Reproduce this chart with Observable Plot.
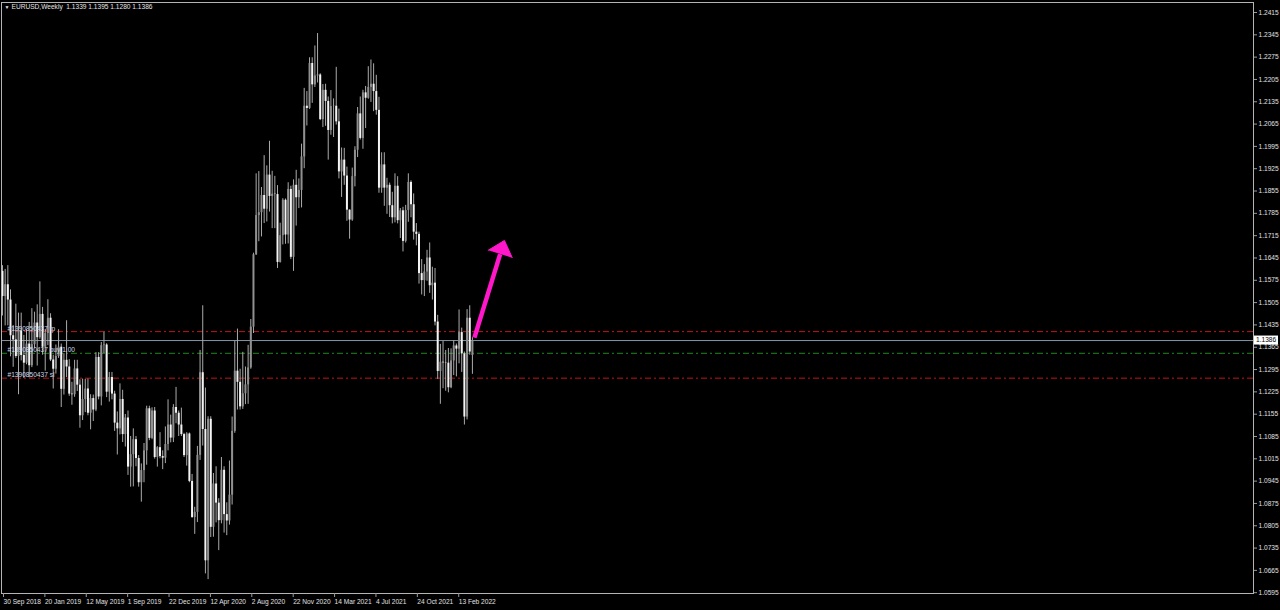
<!DOCTYPE html>
<html><head><meta charset="utf-8">
<script src="https://cdn.jsdelivr.net/npm/d3@7"></script>
<script src="https://cdn.jsdelivr.net/npm/@observablehq/plot@0.6"></script>
<style>html,body{margin:0;padding:0;background:#000;overflow:hidden}</style>
</head><body><div id="chart"></div>
<script>
// Weekly EURUSD bars, first bar = week of 30 Sep 2018, last = week of 13 Feb 2022
const opens = [1.1603,1.1524,1.1561,1.1513,1.1401,1.1388,1.1336,1.1416,1.1339,1.1315,
1.1375,1.1307,1.1373,1.1441,1.1395,1.1468,1.1365,1.1408,1.1456,1.1325,
1.1296,1.1336,1.1365,1.1233,1.1324,1.1303,1.1218,1.1216,1.1297,1.1246,
1.1150,1.1201,1.1234,1.1158,1.1204,1.1168,1.1333,1.1209,1.1370,1.1372,
1.1224,1.1270,1.1218,1.1127,1.1109,1.1201,1.1091,1.1143,1.0989,1.1028,
1.1075,1.1016,1.0940,1.0978,1.1040,1.1172,1.1079,1.1165,1.1019,1.1050,
1.1022,1.1017,1.1060,1.1121,1.1080,1.1176,1.1158,1.1121,1.1091,1.1025,
1.1093,1.0944,1.0831,1.0847,1.1026,1.1285,1.1107,1.0695,1.1139,1.0800,
1.0936,1.0876,1.0821,1.0979,1.0840,1.0820,1.0901,1.1101,1.1290,1.1255,
1.1178,1.1219,1.1247,1.1300,1.1428,1.1655,1.1778,1.1787,1.1841,1.1798,
1.1905,1.1838,1.1845,1.1844,1.1631,1.1715,1.1826,1.1717,1.1860,1.1647,
1.1873,1.1834,1.1857,1.1962,1.2121,1.2114,1.2255,1.2188,1.2216,1.2219,
1.2079,1.2171,1.2136,1.2045,1.2120,1.2121,1.2072,1.1915,1.1952,1.1902,
1.1795,1.1764,1.1900,1.1983,1.2097,1.2020,1.2163,1.2146,1.2180,1.2190,
1.2167,1.2108,1.1864,1.1937,1.1864,1.1873,1.1809,1.1771,1.1870,1.1762,
1.1793,1.1697,1.1794,1.1882,1.1812,1.1726,1.1719,1.1596,1.1574,1.1601,
1.1645,1.1558,1.1566,1.1444,1.1289,1.1318,1.1316,1.1315,1.1238,1.1322,
1.1369,1.1359,1.1411,1.1344,1.1146,1.1456,1.1339];
const highs = [1.1621,1.1609,1.1621,1.1545,1.1433,1.1500,1.1472,1.1472,1.1402,1.1420,
1.1443,1.1486,1.1475,1.1498,1.1570,1.1490,1.1420,1.1514,1.1470,1.1340,
1.1372,1.1420,1.1375,1.1345,1.1448,1.1326,1.1255,1.1324,1.1324,1.1263,
1.1265,1.1264,1.1265,1.1216,1.1215,1.1348,1.1348,1.1380,1.1412,1.1376,
1.1286,1.1286,1.1227,1.1162,1.1250,1.1230,1.1154,1.1165,1.1085,1.1109,
1.1085,1.1025,1.0999,1.1063,1.1180,1.1180,1.1175,1.1176,1.1053,1.1097,
1.1040,1.1115,1.1200,1.1152,1.1185,1.1239,1.1165,1.1174,1.1095,1.1097,
1.1096,1.0966,1.0863,1.1054,1.1355,1.1495,1.1237,1.1147,1.1147,1.0969,
1.0990,1.0890,1.1019,1.0990,1.0877,1.1008,1.1146,1.1384,1.1422,1.1296,
1.1349,1.1303,1.1371,1.1452,1.1660,1.1909,1.1916,1.1866,1.1966,1.1934,
1.2011,1.1917,1.1901,1.1872,1.1754,1.1831,1.1830,1.1881,1.1870,1.1890,
1.1920,1.1893,1.2002,1.2177,1.2167,1.2273,1.2273,1.2310,1.2349,1.2223,
1.2189,1.2190,1.2150,1.2170,1.2144,1.2243,1.2112,1.1990,1.1989,1.1930,
1.1796,1.1927,1.1994,1.2117,1.2150,1.2171,1.2183,1.2245,1.2266,1.2254,
1.2218,1.2149,1.1975,1.1975,1.1895,1.1880,1.1851,1.1909,1.1900,1.1800,
1.1804,1.1810,1.1909,1.1887,1.1846,1.1753,1.1726,1.1640,1.1624,1.1669,
1.1692,1.1616,1.1612,1.1465,1.1374,1.1383,1.1355,1.1361,1.1360,1.1386,
1.1375,1.1482,1.1425,1.1350,1.1483,1.1495,1.1395];
const lows = [1.1463,1.1432,1.1432,1.1335,1.1302,1.1330,1.1216,1.1322,1.1267,1.1310,
1.1269,1.1301,1.1360,1.1306,1.1390,1.1340,1.1290,1.1370,1.1320,1.1234,
1.1281,1.1330,1.1176,1.1215,1.1270,1.1211,1.1183,1.1208,1.1226,1.1111,
1.1135,1.1160,1.1150,1.1106,1.1132,1.1163,1.1200,1.1181,1.1345,1.1207,
1.1193,1.1200,1.1101,1.1027,1.1090,1.1066,1.1052,1.0963,1.0926,1.0927,
1.0990,1.0926,1.0879,1.0940,1.0995,1.1072,1.1075,1.1014,1.0989,1.1015,
1.0981,1.1000,1.1040,1.1065,1.1066,1.1125,1.1085,1.1085,1.1019,1.0992,
1.0940,1.0828,1.0778,1.0815,1.1010,1.1055,1.0654,1.0636,1.0768,1.0769,
1.0814,1.0727,1.0811,1.0782,1.0774,1.0807,1.0870,1.1095,1.1168,1.1168,
1.1170,1.1185,1.1186,1.1296,1.1408,1.1653,1.1696,1.1711,1.1753,1.1758,
1.1789,1.1737,1.1737,1.1612,1.1629,1.1686,1.1688,1.1689,1.1640,1.1603,
1.1745,1.1800,1.1802,1.1925,1.2059,1.2111,1.2130,1.2180,1.2194,1.2076,
1.2054,1.2058,1.1952,1.2030,1.2023,1.2062,1.1893,1.1835,1.1873,1.1760,
1.1704,1.1760,1.1868,1.1960,1.2015,1.1986,1.2051,1.2143,1.2133,1.2104,
1.2093,1.1848,1.1848,1.1807,1.1782,1.1772,1.1752,1.1755,1.1752,1.1706,
1.1664,1.1692,1.1757,1.1771,1.1701,1.1683,1.1563,1.1529,1.1524,1.1572,
1.1534,1.1513,1.1432,1.1264,1.1186,1.1235,1.1227,1.1222,1.1235,1.1276,
1.1272,1.1313,1.1286,1.1121,1.1137,1.1340,1.1280];
const closes = [1.1524,1.1561,1.1513,1.1401,1.1388,1.1336,1.1416,1.1339,1.1315,1.1375,
1.1307,1.1373,1.1441,1.1395,1.1468,1.1365,1.1408,1.1456,1.1325,1.1296,
1.1336,1.1365,1.1233,1.1324,1.1303,1.1218,1.1216,1.1297,1.1246,1.1150,
1.1201,1.1234,1.1158,1.1204,1.1168,1.1333,1.1209,1.1370,1.1372,1.1224,
1.1270,1.1218,1.1127,1.1109,1.1201,1.1091,1.1143,1.0989,1.1028,1.1075,
1.1016,1.0940,1.0978,1.1040,1.1172,1.1079,1.1165,1.1019,1.1050,1.1022,
1.1017,1.1060,1.1121,1.1080,1.1176,1.1158,1.1121,1.1091,1.1025,1.1093,
1.0944,1.0831,1.0847,1.1026,1.1285,1.1107,1.0695,1.1139,1.0800,1.0936,
1.0876,1.0821,1.0979,1.0840,1.0820,1.0901,1.1101,1.1290,1.1255,1.1178,
1.1219,1.1247,1.1300,1.1428,1.1655,1.1778,1.1787,1.1841,1.1798,1.1905,
1.1838,1.1845,1.1844,1.1631,1.1715,1.1826,1.1717,1.1860,1.1647,1.1873,
1.1834,1.1857,1.1962,1.2121,1.2114,1.2255,1.2188,1.2216,1.2219,1.2079,
1.2171,1.2136,1.2045,1.2120,1.2121,1.2072,1.1915,1.1952,1.1902,1.1795,
1.1764,1.1900,1.1983,1.2097,1.2020,1.2163,1.2146,1.2180,1.2190,1.2167,
1.2108,1.1864,1.1937,1.1864,1.1873,1.1809,1.1771,1.1870,1.1762,1.1793,
1.1697,1.1794,1.1882,1.1812,1.1726,1.1719,1.1596,1.1574,1.1601,1.1645,
1.1558,1.1566,1.1444,1.1289,1.1318,1.1316,1.1315,1.1238,1.1322,1.1369,
1.1359,1.1411,1.1344,1.1146,1.1456,1.1350,1.1386];

const yTicks = [1.2415,1.2345,1.2275,1.2205,1.2135,1.2065,1.1995,1.1925,1.1855,1.1785,
1.1715,1.1645,1.1575,1.1505,1.1435,1.1365,1.1295,1.1225,1.1155,1.1085,1.1015,1.0945,
1.0875,1.0805,1.0735,1.0665,1.0595];
const xTickLabels = ["30 Sep 2018","20 Jan 2019","12 May 2019","1 Sep 2019","22 Dec 2019",
"12 Apr 2020","2 Aug 2020","22 Nov 2020","14 Mar 2021","4 Jul 2021","24 Oct 2021","13 Feb 2022"];
const xTickBars = [0,15.5,31,46.5,62,77.5,93,108.5,124,139.5,155,170.5];

const symbolTitle = "EURUSD,Weekly\u00a0 1.1339 1.1395 1.1280 1.1386";
const currentPrice = 1.1386;
const orderPrices = [1.1414, 1.1346, 1.1268];
const orderLabels = ["#1390850437 tp", "#1390850437 buy 1.00", "#1390850437 sl"];
const orderColors = ["#c41414", "#1b8a1b", "#c41414"];
// arrow annotation (bar index, price)
const arrowShaft = {x1: 176.75, y1: 1.1395, x2: 186.4, y2: 1.1657};
const arrowHeadX = [181.9, 188.0, 190.9];
const arrowHeadY = [1.1669, 1.1700, 1.1646];

const bars = closes.map((c, i) => ({i, o: opens[i], h: highs[i], l: lows[i], c}));
const font = "'Liberation Sans', Arial, 'DejaVu Sans', sans-serif";
const fs = 6.6;

const chart = Plot.plot({
  width: 1280, height: 610,
  marginTop: 2, marginBottom: 17, marginLeft: 1, marginRight: 27,
  style: {background: "#000", color: "#d6d6d6", fontFamily: font, fontSize: fs + "px"},
  x: {domain: [-0.3745, 468.55]},
  y: {domain: [1.05925, 1.24464]},
  color: {type: "identity"},
  marks: [
    Plot.ruleY(orderPrices, {stroke: orderColors, strokeWidth: 1, strokeDasharray: "6,3,2,3"}),
    Plot.ruleY([currentPrice], {stroke: "#8394a6", strokeWidth: 1}),
    Plot.ruleX(bars, {x: "i", y1: "l", y2: "h", stroke: "#ababab", strokeWidth: 1}),
    Plot.ruleX(bars, {x: "i", y1: d => Math.min(d.o, d.c), y2: d => Math.max(d.o, d.c),
      stroke: d => d.c >= d.o ? "#909090" : "#f4f4f4", strokeWidth: 2}),
    Plot.text(orderLabels, {frameAnchor: "left", y: (d, i) => orderPrices[i], text: d => d,
      dx: 6, dy: -1, lineAnchor: "bottom", textAnchor: "start", fill: "#cbd8e8", fontSize: fs}),
    Plot.link([arrowShaft], {x1: "x1", y1: "y1", x2: "x2", y2: "y2", stroke: "#ff17c9", strokeWidth: 4.5}),
    Plot.line(arrowHeadX.map((x, k) => ({x, y: arrowHeadY[k]})), {x: "x", y: "y", fill: "#ff17c9", stroke: "#ff17c9", strokeWidth: 1}),
    Plot.frame({stroke: "#b4b4b4"}),
    Plot.axisY({anchor: "right", ticks: yTicks, tickFormat: d3.format(".4f"), tickSize: 3, tickPadding: 2,
      stroke: "#9a9a9a", fill: "#e0e0e0", fontSize: fs}),
    Plot.axisX({anchor: "bottom", ticks: xTickBars, tickFormat: d => xTickLabels[xTickBars.indexOf(d)],
      tickSize: 4, tickPadding: 2, textAnchor: "start", dx: 1, stroke: "#9a9a9a", fill: "#e0e0e0", fontSize: fs}),
    Plot.text(["\u25BC"], {frameAnchor: "top-left", dx: 3, dy: 3, lineAnchor: "top", textAnchor: "start", fill: "#e8e8e8", fontSize: 5}),
    Plot.text([symbolTitle], {frameAnchor: "top-left", dx: 10, dy: 2, lineAnchor: "top", textAnchor: "start", fill: "#e4e4e4", fontSize: fs})
  ]
});

// current price tag on the price axis, placed with the plot's own y scale
const yPos = chart.scale("y").apply(currentPrice);
const svg = d3.select(chart);
svg.append("rect").attr("x", 1254).attr("y", yPos - 4.5).attr("width", 24).attr("height", 9).attr("fill", "#fff");
svg.append("text").attr("x", 1256).attr("y", yPos).attr("dy", "0.32em").attr("fill", "#000")
  .attr("text-anchor", "start")
  .attr("font-family", font).attr("font-size", fs).text(d3.format(".4f")(currentPrice));

document.getElementById("chart").appendChild(chart);
</script>
</body></html>
